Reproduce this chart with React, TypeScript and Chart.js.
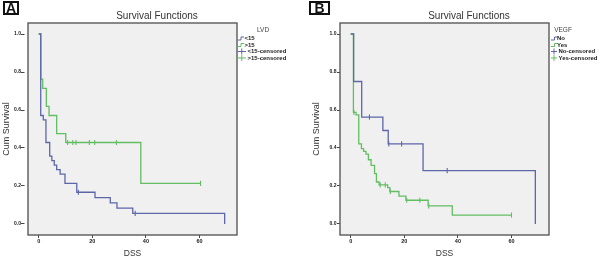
import React, { useEffect, useRef } from "react";
import { Chart, registerables } from "chart.js";

Chart.register(...registerables);

// ---------- Panel A : LVD ----------
const lvdLowTimes = [0, 0.75, 1.7, 2.7, 4.1, 4.9, 5.8, 6.7, 8.0, 9.8, 14.2, 21.0, 26.7, 29.2, 35.1, 69.4];
const lvdLowSurv = [1, 0.571, 0.548, 0.429, 0.357, 0.333, 0.31, 0.286, 0.262, 0.214, 0.167, 0.139, 0.111, 0.083, 0.056, 0];
const lvdLowCensored = [14.8, 36.0];
const lvdHighTimes = [0, 0.8, 1.5, 2.85, 3.85, 6.7, 10.1, 38.1, 60.4];
const lvdHighSurv = [1, 0.762, 0.714, 0.619, 0.571, 0.476, 0.429, 0.214, 0.214];
const lvdHighCensored = [10.8, 12.7, 13.9, 18.9, 20.9, 29.0, 60.4];
const lvdLegendTitle = "LVD";
const lvdLegend = ["<15", ">15", "<15-censored", ">15-censored"];

// ---------- Panel B : VEGF ----------
const vegfNoTimes = [0, 1.1, 4.1, 12.0, 14.0, 27.0, 68.9];
const vegfNoSurv = [1, 0.75, 0.563, 0.492, 0.422, 0.281, 0];
const vegfNoCensored = [7.0, 14.2, 19.0, 36.0];
const vegfYesTimes = [0, 1.0, 2.0, 3.0, 4.0, 4.8, 5.7, 6.6, 7.6, 8.9, 9.6, 10.6, 13.8, 14.6, 18.0, 20.6, 28.9, 37.9, 60.0];
const vegfYesSurv = [1, 0.588, 0.574, 0.422, 0.397, 0.382, 0.368, 0.338, 0.309, 0.265, 0.221, 0.206, 0.191, 0.171, 0.147, 0.125, 0.095, 0.047, 0.047];
const vegfYesCensored = [1.2, 11.0, 12.9, 14.8, 20.9, 25.8, 29.1, 60.0];
const vegfLegendTitle = "VEGF";
const vegfLegend = ["No", "Yes", "No-censored", "Yes-censored"];

// ---------- Shared axes ----------
const xTicks = [0, 20, 40, 60];
const yTicks = [0, 0.2, 0.4, 0.6, 0.8, 1.0];
const chartTitle = "Survival Functions";
const xAxisTitle = "DSS";
const yAxisTitle = "Cum Survival";

const BLUE = "#5d67a8";
const GREEN = "#63bd63";
const FONT = '"Liberation Sans", Arial, sans-serif';

type Series = { times: number[]; surv: number[]; censored: number[]; color: string };

type PanelLayout = {
  yAxisWidth: number;
  padRight: number;
  yTickLength: number;
  yTickDash: number[];
  yTickPad: number;
  yTitlePad: number;
  titleX: number;
  legendTitleX: number;
  glyphX: number;
  stepTextX: number;
  crossTextX: number;
};

function stepLevel(times: number[], surv: number[], t: number) {
  let s = surv[0];
  for (let i = 0; i < times.length; i++) if (times[i] <= t) s = surv[i];
  return s;
}

const legendRows = [38.5, 45, 51.5, 58];

function decorPlugin(lay: PanelLayout, legendTitle: string, labels: string[], colors: string[]) {
  return {
    id: "decor",
    beforeDraw(chart: any) {
      const { ctx, chartArea: a } = chart;
      ctx.save();
      ctx.fillStyle = "#ffffff";
      ctx.fillRect(0, 0, chart.width, chart.height);
      ctx.fillStyle = "#f0f0f0";
      ctx.fillRect(a.left, a.top, a.right - a.left, a.bottom - a.top);
      ctx.restore();
    },
    afterDraw(chart: any) {
      const { ctx, chartArea: a } = chart;
      ctx.save();
      ctx.strokeStyle = "#5a5a5a";
      ctx.lineWidth = 1.4;
      ctx.strokeRect(a.left, a.top, a.right - a.left, a.bottom - a.top);

      ctx.fillStyle = "#333";
      ctx.textAlign = "center";
      ctx.textBaseline = "middle";
      ctx.font = `10px ${FONT}`;
      ctx.fillText(chartTitle, lay.titleX, 16.5);

      ctx.font = `6.5px ${FONT}`;
      ctx.fillStyle = "#444";
      ctx.fillText(legendTitle, lay.legendTitleX, 30);

      ctx.textAlign = "left";
      ctx.font = `bold 6px ${FONT}`;
      labels.forEach((lab, i) => {
        const y = legendRows[i];
        const c = colors[i];
        ctx.strokeStyle = c;
        ctx.lineWidth = 1;
        ctx.beginPath();
        if (i < 2) {
          const x0 = lay.glyphX;
          ctx.moveTo(x0, y + 1.5);
          ctx.lineTo(x0 + 3.5, y + 1.5);
          ctx.lineTo(x0 + 3.5, y - 1.5);
          ctx.lineTo(x0 + 6.5, y - 1.5);
          ctx.stroke();
          ctx.fillStyle = "#222";
          ctx.fillText(lab, lay.stepTextX, y);
        } else {
          const x0 = lay.glyphX;
          const x1 = lay.crossTextX - 1.5;
          ctx.moveTo(x0, y);
          ctx.lineTo(x1, y);
          const xm = (x0 + x1) / 2;
          ctx.moveTo(xm, y - 3);
          ctx.lineTo(xm, y + 3);
          ctx.stroke();
          ctx.fillStyle = "#222";
          ctx.fillText(lab, lay.crossTextX, y);
        }
      });
      ctx.restore();
    },
  };
}

function KMPanel(props: {
  series: Series[];
  legendTitle: string;
  legendLabels: string[];
  lay: PanelLayout;
  left: number;
}) {
  const ref = useRef<HTMLCanvasElement | null>(null);
  useEffect(() => {
    if (!ref.current) return;
    const { series, lay } = props;
    const datasets: any[] = [];
    series.forEach((s) => {
      datasets.push({
        data: s.times.map((t, i) => ({ x: t, y: s.surv[i] })),
        stepped: "before",
        borderColor: s.color,
        borderWidth: 1.3,
        pointRadius: 0,
        fill: false,
      });
    });
    series.forEach((s) => {
      datasets.push({
        data: s.censored.map((t) => ({ x: t, y: stepLevel(s.times, s.surv, t) })),
        showLine: false,
        pointStyle: "line",
        rotation: 90,
        pointRadius: 2.6,
        pointBorderWidth: 1.1,
        borderColor: s.color,
        pointBorderColor: s.color,
      });
    });
    const colors = [series[0].color, series[1].color, series[0].color, series[1].color];
    const chart = new Chart(ref.current, {
      type: "line",
      data: { datasets },
      options: {
        responsive: false,
        animation: false,
        layout: { padding: { left: 0, right: lay.padRight, top: 23, bottom: 0 } },
        plugins: { legend: { display: false }, tooltip: { enabled: false }, title: { display: false } },
        scales: {
          x: {
            type: "linear",
            min: -4,
            max: 74,
            afterBuildTicks: (s: any) => {
              s.ticks = xTicks.map((v) => ({ value: v }));
            },
            afterFit: (s: any) => {
              s.height = 23;
            },
            border: { display: false },
            grid: { drawOnChartArea: false, tickLength: 3, color: "#444", tickWidth: 1 },
            ticks: {
              autoSkip: false,
              maxRotation: 0,
              padding: 0,
              color: "#222",
              font: { size: 5.5, weight: "bold", family: FONT },
              callback: (v: any) => String(v),
            },
            title: {
              display: true,
              text: xAxisTitle,
              color: "#333",
              padding: 0,
              font: { size: 8.5, family: FONT, lineHeight: 1 },
            },
          },
          y: {
            type: "linear",
            min: -0.058,
            max: 1.058,
            afterBuildTicks: (s: any) => {
              s.ticks = yTicks.map((v) => ({ value: v }));
            },
            afterFit: (s: any) => {
              s.width = lay.yAxisWidth;
            },
            border: { display: false },
            grid: {
              drawOnChartArea: false,
              tickLength: lay.yTickLength,
              color: "#444",
              tickWidth: 1,
              tickBorderDash: lay.yTickDash,
            },
            ticks: {
              autoSkip: false,
              padding: lay.yTickPad,
              color: "#222",
              font: { size: 5, weight: "bold", family: FONT },
              callback: (v: any) => Number(v).toFixed(1),
            },
            title: {
              display: true,
              text: yAxisTitle,
              color: "#333",
              padding: { top: lay.yTitlePad, bottom: 0 },
              font: { size: 9, family: FONT, lineHeight: 1.2 },
            },
          },
        },
      } as any,
      plugins: [decorPlugin(lay, props.legendTitle, props.legendLabels, colors)],
    });
    return () => chart.destroy();
  }, []);
  return (
    <canvas
      ref={ref}
      width={300}
      height={258}
      style={{ position: "absolute", left: props.left, top: 0, width: 300, height: 258, display: "block" }}
    />
  );
}

const layoutA: PanelLayout = {
  yAxisWidth: 28,
  padRight: 63,
  yTickLength: 7,
  yTickDash: [3.5, 20],
  yTickPad: 0,
  yTitlePad: 1.5,
  titleX: 157,
  legendTitleX: 263,
  glyphX: 237.5,
  stepTextX: 244.5,
  crossTextX: 247.5,
};

const layoutB: PanelLayout = {
  yAxisWidth: 40,
  padRight: 51,
  yTickLength: 3,
  yTickDash: [],
  yTickPad: 0.5,
  yTitlePad: 11.5,
  titleX: 169,
  legendTitleX: 263,
  glyphX: 251,
  stepTextX: 257,
  crossTextX: 258.5,
};

function LabelBox(props: { text: string; left: number; width: number }) {
  return (
    <div
      style={{
        position: "absolute",
        left: props.left,
        top: 1,
        width: props.width,
        height: 14,
        boxSizing: "border-box",
        border: "2px solid #111",
        fontFamily: FONT,
        fontWeight: "bold",
        fontSize: 14,
        lineHeight: "11px",
        textAlign: "center",
        color: "#111",
        background: "#fff",
      }}
    >
      {props.text}
    </div>
  );
}

export default function App() {
  const seriesA: Series[] = [
    { times: lvdLowTimes, surv: lvdLowSurv, censored: lvdLowCensored, color: BLUE },
    { times: lvdHighTimes, surv: lvdHighSurv, censored: lvdHighCensored, color: GREEN },
  ];
  const seriesB: Series[] = [
    { times: vegfNoTimes, surv: vegfNoSurv, censored: vegfNoCensored, color: BLUE },
    { times: vegfYesTimes, surv: vegfYesSurv, censored: vegfYesCensored, color: GREEN },
  ];
  return (
    <div style={{ position: "fixed", left: 0, top: 0, width: 600, height: 258, background: "#fff", overflow: "hidden" }}>
      <KMPanel series={seriesA} legendTitle={lvdLegendTitle} legendLabels={lvdLegend} lay={layoutA} left={0} />
      <KMPanel series={seriesB} legendTitle={vegfLegendTitle} legendLabels={vegfLegend} lay={layoutB} left={300} />
      <LabelBox text="A" left={3} width={16} />
      <LabelBox text="B" left={309} width={21} />
    </div>
  );
}
